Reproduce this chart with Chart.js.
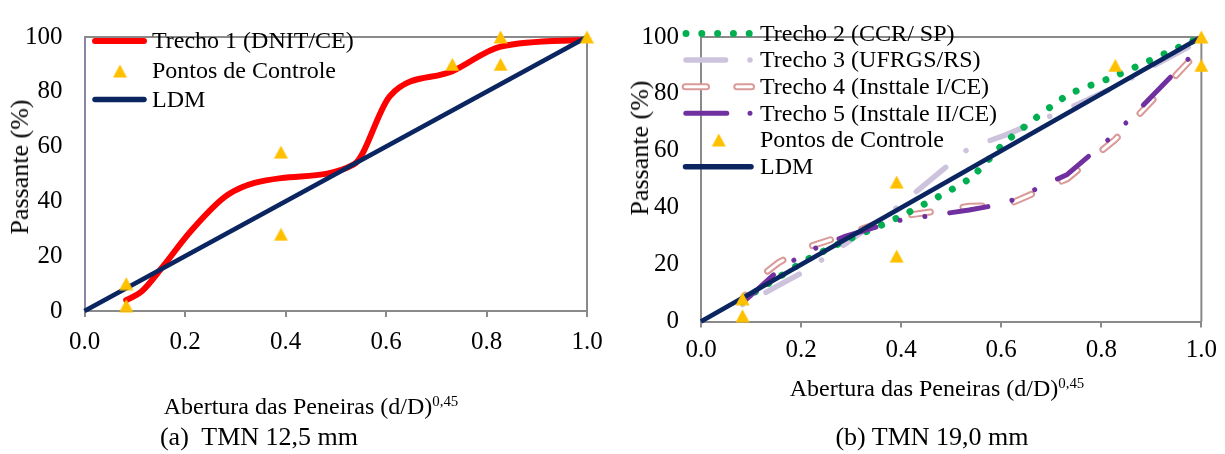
<!DOCTYPE html>
<html lang="pt">
<head>
<meta charset="utf-8">
<script src="https://cdn.jsdelivr.net/npm/chart.js@4.4.1/dist/chart.umd.min.js"></script>
<style>
  html, body { margin: 0; padding: 0; background: #fff; }
  #page { position: relative; width: 1225px; height: 454px; overflow: hidden;
          font-family: "Liberation Serif", "Times New Roman", serif; color: #000; }
  canvas { position: absolute; top: 0; }
  .txt { position: absolute; white-space: nowrap; line-height: 1; transform: translate(-50%, -50%); }
  .ytitle { transform: translate(-50%, -50%) rotate(-90deg); }
  sup { font-size: 62%; vertical-align: 0.55em; line-height: 0; }
</style>
</head>
<body>
<div id="page">
  <canvas id="chartA" width="615" height="454" style="left:0"></canvas>
  <canvas id="chartB" width="610" height="454" style="left:615px"></canvas>

  <div class="txt ytitle" style="left:19.5px;top:167px;font-size:26px">Passante (%)</div>
  <div class="txt ytitle" style="left:639.5px;top:148px;font-size:26px">Passante (%)</div>
  <div class="txt" style="left:311px;top:406px;font-size:24px">Abertura das Peneiras (d/D)<sup>0,45</sup></div>
  <div class="txt" style="left:937px;top:388px;font-size:24px">Abertura das Peneiras (d/D)<sup>0,45</sup></div>
  <div class="txt" style="left:259px;top:437px;font-size:26px">(a)&nbsp; TMN 12,5 mm</div>
  <div class="txt" style="left:932px;top:437px;font-size:26px">(b) TMN 19,0 mm</div>
</div>

<script>
// abertura das peneiras, (d/D)^0,45
const abertura = [0.083, 0.113, 0.155, 0.211, 0.286, 0.391, 0.536, 0.608, 0.732, 0.828, 1.0];

// TMN 12,5 mm
const trecho1 = [4, 7, 16, 29, 42.5, 48.5, 53.5, 78.5, 87.5, 96.5, 99];
const controleAx = [0.083, 0.083, 0.391, 0.391, 0.732, 0.828, 0.828, 1.0];
const controleAy = [2, 10, 28, 58, 90, 90, 100, 100];

// TMN 19,0 mm
const trecho2 = [7, 11, 15.5, 21.7, 28.2, 36.3, 50.1, 63, 79.5, 86.3, 100];
const trecho3 = [6, 8.6, 12.7, 18, 27, 40, 61, 65.5, 74.7, 82.5, 99];
const trecho4 = [8, 15, 20.7, 26, 30.3, 36.8, 40.5, 40.7, 50.2, 64, 96];
const trecho5 = [6.6, 11.3, 18, 24.5, 29.8, 35.4, 39.2, 41.5, 51.7, 66, 97];
const controleBx = [0.083, 0.083, 0.391, 0.391, 0.828, 1.0, 1.0];
const controleBy = [2, 8, 23, 49, 90, 90, 100];

// linha de densidade maxima
const ldmX = [0, 1];
const ldmY = [0, 100];

const xTicks = [0, 0.2, 0.4, 0.6, 0.8, 1.0];
const yTicks = [0, 20, 40, 60, 80, 100];

const FONT = '"Liberation Serif", "Times New Roman", serif';
const GRAY = '#8a8a8a';
const NAVY = '#0b2561';
const GOLD = '#ffc000';

const pts = (xs, ys) => xs.map((x, i) => ({ x: x, y: ys[i] }));

// yellow triangle marker
const tri = document.createElement('canvas');
tri.width = 15; tri.height = 14;
(() => {
  const c = tri.getContext('2d');
  c.fillStyle = GOLD;
  c.beginPath();
  c.moveTo(7.5, 0.5); c.lineTo(14.5, 13.5); c.lineTo(0.5, 13.5);
  c.closePath(); c.fill();
})();

function lineSet(label, ys, style) {
  return Object.assign({
    label: label,
    data: pts(abertura, ys),
    showLine: true,
    pointRadius: 0,
    fill: false,
    clip: false,
    borderCapStyle: 'round',
    borderJoinStyle: 'round',
    tension: 0
  }, style);
}

function ldmSet(order) {
  return {
    label: 'LDM', data: pts(ldmX, ldmY), showLine: true, pointRadius: 0,
    borderColor: NAVY, borderWidth: 4.8, clip: false, order: order
  };
}

function controleSet(xs, ys) {
  return {
    label: 'Pontos de Controle', data: pts(xs, ys), showLine: false,
    pointStyle: tri, pointRadius: 7, clip: false, order: 0
  };
}

// top and right edges of the plot box
const framePlugin = {
  id: 'frame',
  beforeDatasetsDraw(chart) {
    const { ctx, chartArea: a } = chart;
    ctx.save();
    ctx.strokeStyle = GRAY;
    ctx.lineWidth = 2;
    ctx.beginPath();
    ctx.moveTo(a.left, a.top);
    ctx.lineTo(a.right, a.top);
    ctx.lineTo(a.right, a.bottom);
    ctx.stroke();
    ctx.restore();
  }
};

// legend drawn by hand so the sample keeps each series' line pattern
const legendPlugin = {
  id: 'legendaManual',
  afterDatasetsDraw(chart, args, opts) {
    const ctx = chart.ctx;
    ctx.save();
    ctx.font = opts.fontSize + 'px ' + FONT;
    ctx.fillStyle = '#000';
    ctx.textBaseline = 'middle';
    opts.rows.forEach(r => {
      r.strokes.forEach(s => {
        ctx.beginPath();
        ctx.setLineDash(s.dash || []);
        ctx.lineDashOffset = 0;
        ctx.lineCap = 'round';
        ctx.strokeStyle = s.color;
        ctx.lineWidth = s.width;
        ctx.moveTo(s.x0, r.y);
        ctx.lineTo(s.x1, r.y);
        ctx.stroke();
      });
      if (r.marker) ctx.drawImage(tri, r.marker - tri.width / 2, r.y - tri.height / 2);
      ctx.setLineDash([]);
      ctx.fillText(r.label, opts.textX, r.y + 1);
    });
    ctx.restore();
  }
};

function scales(yLeft, xHeight, yBorder, xPad) {
  return {
    x: {
      type: 'linear', min: 0, max: 1,
      afterBuildTicks: s => { s.ticks = xTicks.map(v => ({ value: v })); },
      afterFit: s => { s.height = xHeight; },
      grid: { drawOnChartArea: false, drawTicks: true, tickLength: 6, color: GRAY, lineWidth: 2 },
      border: { color: GRAY, width: 2 },
      ticks: { color: '#000', padding: xPad, font: { family: FONT, size: 25 },
               callback: v => v.toFixed(1) }
    },
    y: {
      type: 'linear', min: 0, max: 100,
      afterBuildTicks: s => { s.ticks = yTicks.map(v => ({ value: v })); },
      afterFit: s => { s.width = yLeft; },
      grid: { drawOnChartArea: false, drawTicks: false },
      border: { color: yBorder, width: 2 },
      ticks: { color: '#000', padding: 22, font: { family: FONT, size: 25 } }
    }
  };
}

const common = {
  responsive: false,
  animation: false,
  events: [],
  plugins: { legend: { display: false }, tooltip: { enabled: false } }
};

new Chart(document.getElementById('chartA'), {
  type: 'scatter',
  data: {
    datasets: [
      lineSet('Trecho 1 (DNIT/CE)', trecho1, {
        borderColor: '#ff0000', borderWidth: 6, cubicInterpolationMode: 'monotone', order: 2
      }),
      controleSet(controleAx, controleAy),
      ldmSet(1)
    ]
  },
  options: Object.assign({}, common, {
    layout: { padding: { left: 0, top: 22.7, right: 28, bottom: 0 } },
    scales: scales(84.5, 143, '#8e84a8', 10),
    plugins: Object.assign({}, common.plugins, {
      legendaManual: {
        fontSize: 24, textX: 152,
        rows: [
          { y: 41, label: 'Trecho 1 (DNIT/CE)', strokes: [{ x0: 95, x1: 144, color: '#ff0000', width: 6 }] },
          { y: 71, label: 'Pontos de Controle', strokes: [], marker: 120 },
          { y: 99.5, label: 'LDM', strokes: [{ x0: 95, x1: 144, color: NAVY, width: 5.5 }] }
        ]
      }
    })
  }),
  plugins: [framePlugin, legendPlugin]
});

const LAV = '#cdc3dd';
const ROSE = '#d99a98';
const PURP = '#7030a0';
const GREEN = '#00b050';
const OX = 615; // left edge of the second canvas on the page

new Chart(document.getElementById('chartB'), {
  type: 'scatter',
  data: {
    datasets: [
      lineSet('Trecho 2 (CCR/ SP)', trecho2, {
        borderColor: GREEN, borderWidth: 7, borderDash: [0.001, 15.9], tension: 0.2, order: 3
      }),
      lineSet('Trecho 3 (UFRGS/RS)', trecho3, {
        borderColor: LAV, borderWidth: 5.5, borderDash: [38, 26.35, 0.001, 26.35],
        borderDashOffset: 64.35, order: 6
      }),
      lineSet('Trecho 4 (Insttale I/CE)', trecho4, {
        borderColor: ROSE, borderWidth: 7, borderDash: [19, 33], borderDashOffset: 14.5, order: 5
      }),
      lineSet('', trecho4, {
        borderColor: '#ffffff', borderWidth: 3, borderDash: [19, 33], borderDashOffset: 14.5, order: 4
      }),
      lineSet('Trecho 5 (Insttale II/CE)', trecho5, {
        borderColor: PURP, borderWidth: 5, borderDash: [38.7, 25.1, 0.001, 25.1, 0.001, 25.1],
        borderDashOffset: 111, order: 2
      }),
      controleSet(controleBx, controleBy),
      ldmSet(1)
    ]
  },
  options: Object.assign({}, common, {
    layout: { padding: { left: 0, top: 23.3, right: 20, bottom: 0 } },
    scales: scales(86, 132.5, GRAY, 8),
    plugins: Object.assign({}, common.plugins, {
      legendaManual: {
        fontSize: 24, textX: 760 - OX,
        rows: [
          { y: 33.5, label: 'Trecho 2 (CCR/ SP)',
            strokes: [{ x0: 686 - OX, x1: 752 - OX, color: GREEN, width: 7, dash: [0.001, 15.8] }] },
          { y: 60, label: 'Trecho 3 (UFRGS/RS)',
            strokes: [{ x0: 686 - OX, x1: 751 - OX, color: LAV, width: 5.5, dash: [39.6, 24.4, 0.001, 100] }] },
          { y: 86.7, label: 'Trecho 4 (Insttale I/CE)',
            strokes: [
              { x0: 685.2 - OX, x1: 751.5 - OX, color: ROSE, width: 7, dash: [21.3, 30.3, 14.7, 100] },
              { x0: 685.2 - OX, x1: 751.5 - OX, color: '#ffffff', width: 3, dash: [21.3, 30.3, 14.7, 100] }
            ] },
          { y: 113.3, label: 'Trecho 5 (Insttale II/CE)',
            strokes: [{ x0: 685.8 - OX, x1: 751 - OX, color: PURP, width: 5, dash: [41, 23.2, 0.001, 100] }] },
          { y: 140, label: 'Pontos de Controle', strokes: [], marker: 718.8 - OX },
          { y: 166.7, label: 'LDM',
            strokes: [{ x0: 685.5 - OX, x1: 751 - OX, color: NAVY, width: 5.5 }] }
        ]
      }
    })
  }),
  plugins: [framePlugin, legendPlugin]
});
</script>
</body>
</html>
